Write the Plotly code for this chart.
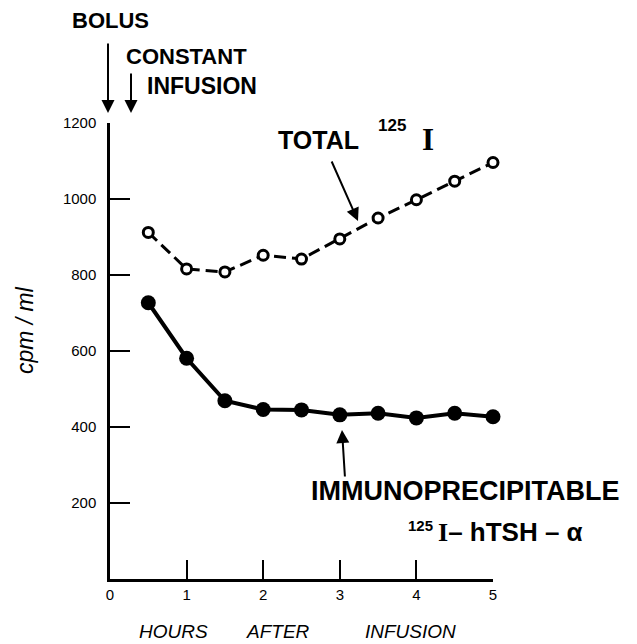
import plotly.graph_objects as go

# ---- data ----
hours = [0.5, 1.0, 1.5, 2.0, 2.5, 3.0, 3.5, 4.0, 4.5, 5.0]
total_125I = [912, 816, 808, 852, 842, 895, 950, 998, 1047, 1096]
immuno_hTSH_alpha = [727, 581, 469, 446, 445, 432, 436, 424, 436, 427]

x_ticks = [0, 1, 2, 3, 4, 5]
y_ticks = [200, 400, 600, 800, 1000, 1200]

# the page body has an 8px margin, so the figure starts at (8, 8)
OFF = 8
FW, FH = 637 - OFF, 644 - OFF
PLOT_L, PLOT_R, PLOT_T, PLOT_B = 110, 493, 123, 579   # in reference pixels
L = PLOT_L - OFF
T = PLOT_T - OFF
R = FW - (PLOT_R - OFF)
B = FH - (PLOT_B - OFF)
PW, PH = FW - L - R, FH - T - B

def px(xpix):
    return (xpix - PLOT_L) / PW

def py(ypix):
    return (PLOT_B - ypix) / PH

LABEL_FONT = "Liberation Sans, Arial, sans-serif"
SERIF = "Liberation Serif, Times New Roman, serif"
TICK_FONT = "Liberation Sans, Arial, sans-serif"

fig = go.Figure()
fig.add_trace(go.Scatter(
    x=hours, y=total_125I, mode="lines+markers", cliponaxis=False,
    line=dict(color="black", width=3, dash="12px,6px"),
    marker=dict(symbol="circle", size=10, color="white",
                line=dict(color="black", width=3)),
    showlegend=False, name="TOTAL 125I"))
fig.add_trace(go.Scatter(
    x=hours, y=immuno_hTSH_alpha, mode="lines+markers", cliponaxis=False,
    line=dict(color="black", width=4),
    marker=dict(symbol="circle", size=15, color="black"),
    showlegend=False, name="IMMUNOPRECIPITABLE 125I-hTSH-α"))

ann = []
def label(text, xp, yp, size, xanchor="center", family=LABEL_FONT, bold=True,
          italic=False, angle=0):
    ann.append(dict(text=text, x=px(xp), y=py(yp), xref="paper", yref="paper",
                    xanchor=xanchor, yanchor="middle", showarrow=False, textangle=angle,
                    font=dict(family=family, size=size, color="black",
                              weight="bold" if bold else "normal",
                              style="italic" if italic else "normal")))

def arrow(x_tip, y_tip, x_tail, y_tail):
    ann.append(dict(text="", x=px(x_tip), y=py(y_tip), xref="paper", yref="paper",
                    ax=x_tail - x_tip, ay=y_tail - y_tip, axref="pixel", ayref="pixel",
                    showarrow=True, arrowhead=2, arrowsize=1.3, arrowwidth=2,
                    arrowcolor="black"))

# top labels
label("BOLUS", 110, 20, 22)
label("CONSTANT", 124, 56, 22, xanchor="left")
label("INFUSION", 145, 86, 23, xanchor="left")
arrow(108, 113, 108, 42)
arrow(131, 113, 131, 72)

# TOTAL 125I label
label("TOTAL", 318, 140, 25)
label("125", 392, 126, 17)
label("I", 428, 140, 31, family=SERIF)
arrow(358, 221, 331, 160)

# IMMUNOPRECIPITABLE 125I-hTSH-α label
label("IMMUNOPRECIPITABLE", 465, 491, 27)
label("125", 420, 525, 15)
label("<span style='font-family:Liberation Serif'>I</span>– hTSH – α", 436, 532, 26,
      xanchor="left")
arrow(342, 430, 345, 478)

# axis titles
label("cpm / ml", 25, 330, 23, family=TICK_FONT, bold=False, italic=True, angle=-90)
label("HOURS", 173, 631, 19, family=TICK_FONT, bold=False, italic=True)
label("AFTER", 278, 631, 19, family=TICK_FONT, bold=False, italic=True)
label("INFUSION", 410, 631, 19, family=TICK_FONT, bold=False, italic=True)

axis_common = dict(showline=True, linecolor="black", linewidth=2.5, showgrid=False,
                   zeroline=False, ticks="inside", tickcolor="black", tickwidth=2,
                   tickfont=dict(family=TICK_FONT, size=15, color="black"))

fig.update_layout(
    width=FW, height=FH, margin=dict(l=L, r=R, t=T, b=B),
    paper_bgcolor="white", plot_bgcolor="white",
    xaxis=dict(range=[0, 5], tickvals=x_ticks, ticklen=19, ticklabelstandoff=0, **axis_common),
    yaxis=dict(range=[0, 1200], tickvals=y_ticks, ticklen=20, ticklabelstandoff=8, **axis_common),
    annotations=ann,
)

fig.write_html("out.html")
